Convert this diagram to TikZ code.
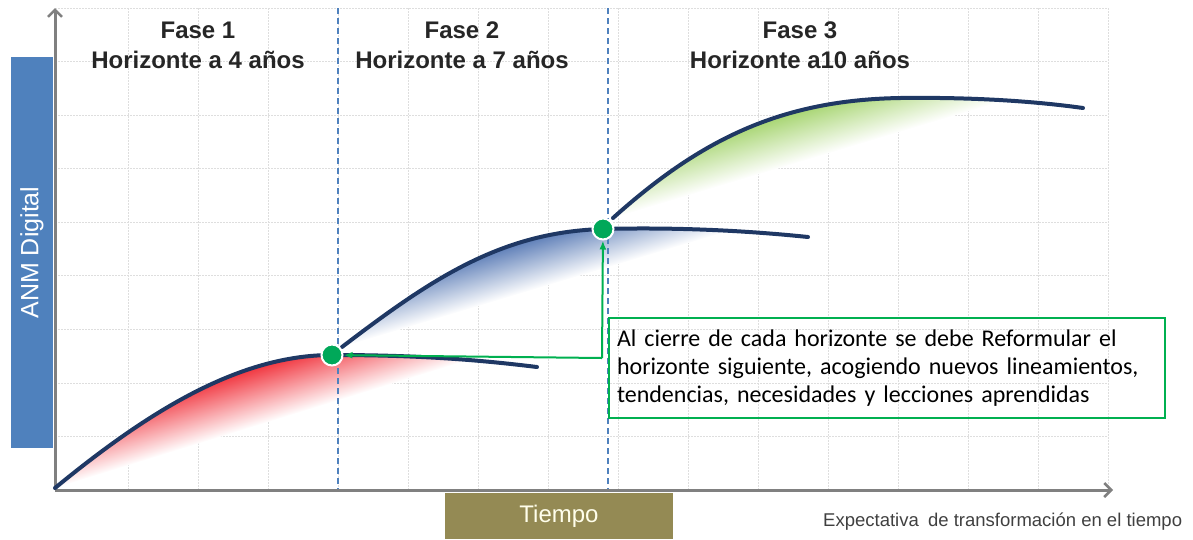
\documentclass[tikz,border=0pt]{standalone}
\usepackage{fontspec}
\setmainfont{Liberation Sans}
\newfontfamily\notafont{Carlito}
\usepackage{tikz}
\usetikzlibrary{arrows.meta, positioning}

\definecolor{ejegris}{RGB}{128,128,128}
\definecolor{azulanm}{RGB}{79,129,189}
\definecolor{oliva}{RGB}{148,138,84}
\definecolor{curvaazul}{RGB}{31,56,100}
\definecolor{verdehito}{RGB}{0,168,89}
\definecolor{verdenota}{RGB}{0,176,80}
\definecolor{titulo}{RGB}{38,38,38}
\definecolor{rojofase}{RGB}{240,40,50}
\definecolor{azulfase}{RGB}{58,98,168}
\definecolor{verdefase}{RGB}{140,200,70}

\begin{document}
\begin{tikzpicture}[
  x=1pt, y=-1pt,
  fasetitle/.style={font=\fontsize{24}{30}\selectfont\bfseries, text=titulo, align=center, inner sep=0pt},
  rejilla/.style={draw=black!13, line width=0.8pt, dash pattern=on 1.5pt off 1.5pt},
  guia/.style={draw=azulanm, line width=1.5pt, dash pattern=on 6pt off 4pt},
  ejes/.style={draw=ejegris, line width=3pt, -{Straight Barb[length=7pt,width=14pt,line width=2.5pt]}},
  curva/.style={draw=curvaazul, line width=4pt, line cap=round},
  hito/.style={circle, fill=verdehito, draw=white, line width=2pt, minimum size=21pt, inner sep=0pt},
  nota/.style={draw=verdenota, line width=2pt, text width=540pt, inner xsep=8pt, minimum height=100pt, align=left, font=\notafont\fontsize{24}{28}\selectfont},
  flecha/.style={draw=verdenota, line width=2pt, -{Latex[length=9pt,width=7pt]}}
  ]
\useasboundingbox (0,0) rectangle (1193,539);

% Grid
\foreach \gx in {1,...,15}
  \draw[rejilla] ({58+70*\gx},8) -- ({58+70*\gx},490);
\foreach \gy in {0,...,8}
  \draw[rejilla] (55,{8+53.56*\gy}) -- (1108,{8+53.56*\gy});

% Shaded areas
\begin{scope}
  \clip (55,488) .. controls (150,410) and (240,355) .. (332,355)
    .. controls (420,355) and (480,360) .. (537,367) -- cycle;
  \begin{scope}[transform canvas={rotate around={17.2:(55,488)}}]
    \shade[top color=rojofase, middle color=rojofase!55, bottom color=white] (40,488) rectangle (560,428);
  \end{scope}
\end{scope}
\begin{scope}
  \clip (342,347) .. controls (430,280) and (500,232) .. (603,229)
    .. controls (680,227) and (750,231) .. (808,237) -- cycle;
  \begin{scope}[transform canvas={rotate around={16.7:(342,347)}}]
    \shade[top color=azulfase, middle color=azulfase!50, bottom color=white] (330,347) rectangle (820,287);
  \end{scope}
\end{scope}
\begin{scope}
  \clip (613,218) .. controls (700,140) and (780,100) .. (900,98)
    .. controls (980,97) and (1040,102) .. (1083,108) -- cycle;
  \begin{scope}[transform canvas={rotate around={16.7:(613,218)}}]
    \shade[top color=verdefase, middle color=verdefase!60, bottom color=white] (600,218) rectangle (1100,153);
  \end{scope}
\end{scope}

% Phase limits
\draw[guia] (338,8) -- (338,490);
\draw[guia] (608,8) -- (608,490);

% Axes
\coordinate (origen) at (55,490);
\draw[ejes] (origen) -- (55,8);
\draw[ejes] (origen) -- (1113,490);

% Curves
\draw[curva] (55,488) .. controls (150,410) and (240,355) .. (332,355)
  .. controls (420,355) and (480,360) .. (537,367);
\draw[curva] (342,347) .. controls (430,280) and (500,232) .. (603,229)
  .. controls (680,227) and (750,231) .. (808,237);
\draw[curva] (613,218) .. controls (700,140) and (780,100) .. (900,98)
  .. controls (980,97) and (1040,102) .. (1083,108);

% Nodes
\node[fill=azulanm, rotate=90, minimum width=391pt, minimum height=42pt, inner sep=0pt,
  text=white, font=\fontsize{25}{28}\selectfont] (anm) at (32,252.5) {ANM Digital};
\node[fill=oliva, minimum width=228pt, minimum height=46pt, inner sep=0pt,
  text=white!92!yellow, font=\fontsize{24}{28}\selectfont] (tiempo) at (559,516) {Tiempo};
\node[anchor=base west, text=black!75, font=\fontsize{18.5}{20}\selectfont, inner sep=0pt]
  (expectativa) at (823,526) {Expectativa\hspace{0.5em}de transformación en el tiempo};

\node[fasetitle] (fase1) at (198,45) {Fase 1\\ Horizonte a 4 años};
\node[fasetitle] (fase2) at (462,45) {Fase 2\\ Horizonte a 7 años};
\node[fasetitle] (fase3) at (800,45) {Fase 3\\ Horizonte a10 años};

\node[nota] (nota) at (887,368) {Al cierre de cada horizonte se debe Reformular el\\
  horizonte siguiente, acogiendo nuevos lineamientos,\\
  tendencias, necesidades y lecciones aprendidas};

\node[hito] (hito1) at (332,355) {};
\node[hito] (hito2) at (603,229) {};

% Edges
\coordinate (quiebre) at ([xshift=-6pt,yshift=10pt]nota.west);
\path[flecha] (quiebre) -- (hito1);
\path[flecha] (quiebre) -- (hito2);

\end{tikzpicture}
\end{document}
